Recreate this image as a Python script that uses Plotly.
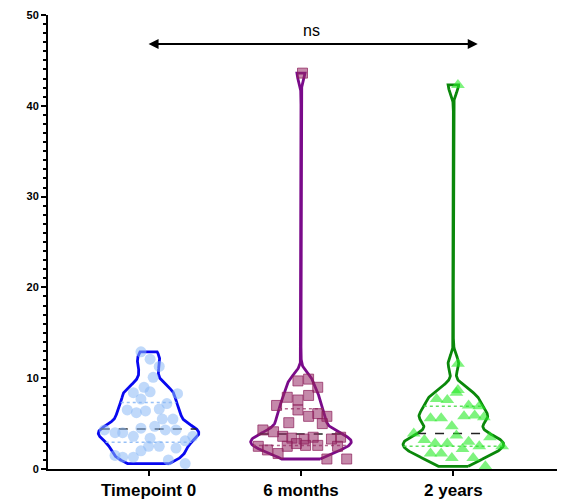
import numpy as np
import plotly.graph_objects as go

categories = ["Timepoint 0", "6 months", "2 years"]

t0_values = [12.9, 12.1, 11.3, 10.1, 8.3, 8.4, 9.0, 8.5, 7.7, 7.2, 6.5, 6.2, 6.4, 6.6,
             5.5, 5.5, 4.3, 4.0, 4.0, 3.6, 4.5, 4.7, 4.3, 4.3, 3.6, 3.4, 3.1, 2.5,
             2.5, 2.0, 2.3, 1.5, 1.3, 1.3, 1.0, 0.6]
t0_jitter = [-0.05, 0.01, 0.07, 0.03, 0.19, -0.10, -0.03, 0.01, -0.05, 0.12, -0.14, -0.08,
             -0.02, 0.07, 0.09, 0.16, -0.29, -0.22, -0.17, -0.10, -0.05, 0.04, 0.11, 0.18,
             0.29, 0.01, 0.24, 0.00, 0.07, -0.05, 0.18, -0.22, -0.17, -0.10, 0.13, 0.24]

m6_values = [43.6, 9.7, 9.9, 9.0, 7.9, 7.6, 8.1, 7.0, 6.5, 6.1, 5.8, 5.8, 5.1, 5.0, 4.3,
             4.1, 3.6, 3.4, 3.3, 3.5, 3.3, 3.5, 2.8, 2.6, 2.6, 2.5, 2.5, 2.5, 2.1, 1.7,
             1.1, 1.1]
m6_jitter = [0.01, -0.02, 0.05, 0.11, -0.09, -0.02, 0.05, -0.16, -0.02, 0.11, 0.17, 0.05,
             -0.08, 0.14, -0.25, -0.18, -0.12, -0.06, 0.02, 0.08, 0.20, 0.26, -0.03, 0.03,
             0.11, -0.09, -0.28, 0.24, -0.22, -0.15, 0.17, 0.30]

y2_values = [42.3, 11.6, 8.7, 8.4, 7.7, 7.6, 7.0, 6.9, 5.8, 5.9, 5.7, 5.6, 5.6, 4.7, 3.9,
             3.7, 3.5, 3.2, 3.0, 2.8, 2.8, 2.5, 2.5, 2.2, 1.7, 1.7, 1.2, 1.2, 0.3]
y2_jitter = [0.03, 0.03, 0.03, 0.02, -0.11, -0.04, 0.10, 0.17, 0.07, 0.14, 0.20, -0.15,
             -0.08, -0.01, -0.26, 0.02, 0.24, -0.19, 0.10, -0.04, -0.12, 0.17, 0.32, 0.06,
             -0.15, -0.08, 0.13, -0.01, 0.21]

y_ticks = [0, 10, 20, 30, 40, 50]
sig_label = "ns"

groups = [
    dict(vals=t0_values, jit=t0_jitter, line="#0808f0", pt="rgba(140,185,245,0.55)",
         edge="rgba(140,185,245,0.0)", q="rgba(140,185,245,0.9)", sym="circle", size=11),
    dict(vals=m6_values, jit=m6_jitter, line="#7a0a8a", pt="rgba(150,40,100,0.55)",
         edge="rgba(140,30,90,0.7)", q="rgba(170,90,130,0.9)", sym="square", size=10),
    dict(vals=y2_values, jit=y2_jitter, line="#0a880a", pt="rgba(40,235,40,0.6)",
         edge="rgba(40,235,40,0.0)", q="rgba(80,220,80,0.9)", sym="triangle-up", size=12),
]

BW = 0.85
MAXHW = 0.33

def kde(vals, ys):
    v = np.asarray(vals)[None, :]
    return np.exp(-0.5 * ((ys[:, None] - v) / BW) ** 2).sum(axis=1)

fig = go.Figure()
for i, g in enumerate(groups):
    vals = np.array(g["vals"])
    ys = np.linspace(vals.min(), vals.max(), 600)
    d = kde(vals, ys)
    scale = MAXHW / d.max()
    hw = d * scale
    xs = np.concatenate([i + hw, (i - hw)[::-1], [i + hw[0]]])
    yy = np.concatenate([ys, ys[::-1], [ys[0]]])
    fig.add_trace(go.Scatter(x=xs, y=yy, mode="lines",
                             line=dict(color=g["line"], width=2.8, shape="linear"),
                             hoverinfo="skip", showlegend=False, cliponaxis=False))
    q1, med, q3 = np.percentile(vals, [25, 50, 75])
    for qv, dash, col in [(q1, "dot", g["q"]), (q3, "dot", g["q"]), (med, "dash", "#222222")]:
        w = kde(vals, np.array([qv]))[0] * scale
        fig.add_trace(go.Scatter(x=[i - w, i + w], y=[qv, qv], mode="lines",
                                 line=dict(color=col, width=1.5, dash=dash),
                                 hoverinfo="skip", showlegend=False))
    fig.add_trace(go.Scatter(x=[i + j for j in g["jit"]], y=g["vals"], mode="markers",
                             marker=dict(symbol=g["sym"], size=g["size"], color=g["pt"],
                                         line=dict(width=1, color=g["edge"])),
                             showlegend=False, cliponaxis=False, name=categories[i]))

fig.add_annotation(x=2.16, y=46.8, ax=-0.01, ay=46.8, xref="x", yref="y",
                   axref="x", ayref="y", text="", showarrow=True, arrowhead=2,
                   arrowside="end+start", arrowwidth=2, arrowsize=1, arrowcolor="black")
fig.add_annotation(x=1.07, y=48.3, xref="x", yref="y", text=sig_label, showarrow=False,
                   font=dict(family="Arial, Liberation Sans, sans-serif", size=16,
                             color="black"))

fig.update_layout(
    width=567, height=499,
    margin=dict(l=48, r=10, t=15, b=30, autoexpand=False),
    plot_bgcolor="white", paper_bgcolor="white",
    font=dict(family="Arial, Liberation Sans, sans-serif", color="black"),
    xaxis=dict(range=[-0.66, 2.68], tickvals=[0, 1, 2],
               ticktext=["<b>%s</b>" % c for c in categories],
               tickfont=dict(size=17), showline=True, linecolor="black", linewidth=2,
               ticks="outside", ticklen=5, tickwidth=2, tickcolor="black",
               showgrid=False, zeroline=False, automargin=False),
    yaxis=dict(range=[0, 50], tickvals=y_ticks,
               ticktext=["<b>%d</b>" % t for t in y_ticks],
               tickfont=dict(size=11), showline=True, linecolor="black", linewidth=2,
               ticks="outside", ticklen=5, tickwidth=2, tickcolor="black",
               minor=dict(dtick=1, ticks="outside", ticklen=3, tickwidth=1.5,
                          tickcolor="black", showgrid=False),
               showgrid=False, zeroline=False, automargin=False),
)

fig.write_html("out.html", config={"displayModeBar": False},
               post_script="document.body.style.margin='0px';document.body.style.overflow='hidden';")
